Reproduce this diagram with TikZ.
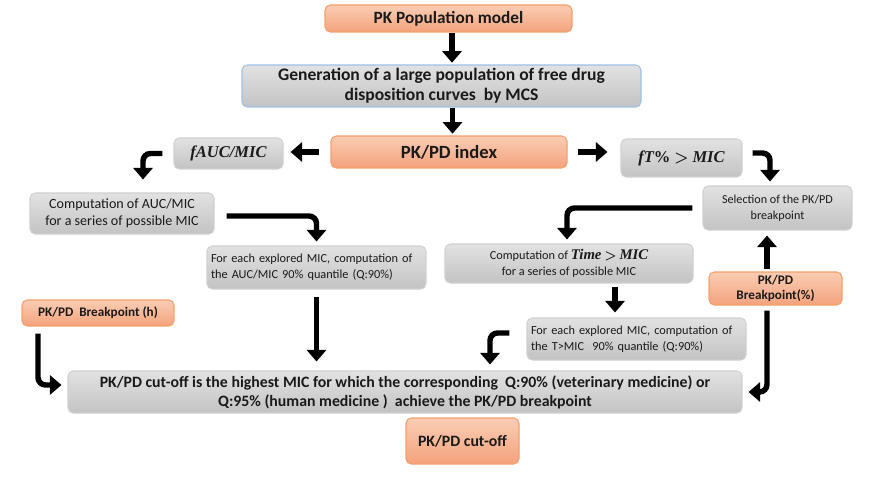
\documentclass[tikz,border=0pt]{standalone}
\usepackage{amsmath}
\usepackage{fontspec}
\setmainfont{Carlito}
\newfontfamily\mathlike{Liberation Serif}
\usetikzlibrary{arrows.meta,positioning}
\definecolor{peachtop}{HTML}{FACDB4}
\definecolor{peachbot}{HTML}{F4A27C}
\definecolor{peachline}{HTML}{F4A06C}
\definecolor{greytop}{HTML}{E2E2E2}
\definecolor{greybot}{HTML}{C3C3C3}
\definecolor{greyline}{HTML}{D0D0D0}
\definecolor{blueline}{HTML}{9DC3E6}
\definecolor{ink}{HTML}{1A1A1A}
\newcommand{\fsz}[2]{\fontsize{#1}{#2}\selectfont}
\newcommand{\bim}[1]{{\mathlike\bfseries\itshape #1}}
\tikzset{
  box/.style={draw,rounded corners=3pt,inner xsep=0.08cm,inner ysep=0pt,
    align=center,line width=0.6pt,text=ink},
  orbox/.style={box,draw=peachline,top color=peachtop,bottom color=peachbot},
  grbox/.style={box,draw=greyline,top color=greytop,bottom color=greybot},
  small/.style={font=\fsz{7}{9}},
  flow/.style={line width=3.1pt,-{Triangle[length=2.3mm,width=3.8mm]}},
  elbow/.style={flow,rounded corners=1.5mm},
}
\begin{document}
\begin{tikzpicture}
  \useasboundingbox (0,0) rectangle (17.64,-9.56);
  % top of the chain
  \node[orbox,minimum width=4.94cm,minimum height=0.54cm,font=\fsz{9.8}{11}\bfseries]
    (pop) at (8.97,-0.37) {PK Population model};
  \node[grbox,draw=blueline,minimum width=7.98cm,minimum height=0.84cm,font=\fsz{10}{11.4}\bfseries]
    (gen) at (8.83,-1.72) {Generation of a large population of free drug\\ disposition curves\ \ by MCS};
  \node[orbox,minimum width=4.72cm,minimum height=0.64cm,font=\fsz{10.6}{12}\bfseries]
    (idx) at (8.98,-3.04) {PK/PD index};
  % index choices
  \node[grbox,minimum width=2.18cm,minimum height=0.62cm,font=\fsz{9.4}{11}]
    (fauc) at (4.57,-3.07) {\bim{fAUC/MIC}};
  \node[grbox,minimum width=2.42cm,minimum height=0.76cm,font=\fsz{9.4}{11}]
    (ft) at (13.63,-3.16) {\bim{fT}{\mathlike\bfseries\%} $\boldsymbol{>}$ \bim{MIC}};
  % AUC branch
  \node[grbox,font=\fsz{8}{9.4},minimum width=3.68cm,minimum height=0.82cm]
    (compauc) at (2.44,-4.27) {Computation of AUC/MIC\\ for a series of possible MIC};
  \node[grbox,small,align=left,text width=4.22cm,minimum height=0.86cm]
    (qauc) at (6.33,-5.35) {For each explored MIC, computation of\\ the AUC/MIC 90\% quantile (Q:90\%)};
  % time branch
  \node[grbox,font=\fsz{6.9}{9},minimum width=2.98cm,minimum height=0.88cm]
    (sel) at (15.55,-4.16) {Selection of the PK/PD\\ breakpoint};
  \node[grbox,small,minimum width=4.96cm,minimum height=0.78cm]
    (comptime) at (11.38,-5.27) {Computation of {\fsz{8.4}{9}\bim{Time}} $\boldsymbol{>}$ {\fsz{8.4}{9}\bim{MIC}}\\ for a series of possible MIC};
  \node[grbox,small,align=left,text width=4.22cm,minimum height=0.84cm]
    (qt) at (12.73,-6.78) {For each explored MIC, computation of\\ the T>MIC\ \ 90\% quantile (Q:90\%)};
  % breakpoints
  \node[orbox,minimum width=2.66cm,minimum height=0.66cm,font=\fsz{7.5}{9}\bfseries]
    (bpp) at (15.51,-5.77) {PK/PD\\ Breakpoint(\%)};
  \node[orbox,minimum width=3.04cm,minimum height=0.52cm,font=\fsz{7.5}{9}\bfseries]
    (bph) at (1.96,-6.26) {PK/PD\ \ Breakpoint\ (h)};
  % result
  \node[grbox,minimum width=13.48cm,minimum height=0.84cm,font=\fsz{9}{10.8}\bfseries]
    (cut) at (8.10,-7.84) {PK/PD cut-off is the highest MIC for which the corresponding\ \ Q:90\% (veterinary medicine) or\\ Q:95\% (human medicine )\ \ achieve the PK/PD breakpoint};
  \node[orbox,minimum width=2.26cm,minimum height=0.92cm,font=\fsz{9}{10}\bfseries]
    (res) at (9.25,-8.82) {PK/PD cut-off};

  \draw[flow,shorten >=1pt] ([xshift=0.07cm]pop.south) -- ([xshift=0.07cm]pop.south |- gen.north);
  \draw[flow,shorten >=1pt] ([xshift=0.07cm]idx.north |- gen.south) -- ([xshift=0.07cm]idx.north);
  \draw[flow,shorten <=0.22cm,shorten >=0.14cm] (idx.west) -- (idx.west -| fauc.east);
  \draw[flow,shorten <=0.2cm,shorten >=0.26cm] (idx.east) -- (idx.east -| ft.west);
  \draw[elbow] ([xshift=-0.22cm]fauc.west) -| ([xshift=0.42cm,yshift=0.26cm]compauc.north);
  \draw[elbow] ([xshift=0.24cm,yshift=-0.05cm]compauc.east) -| ([yshift=0.08cm]qauc.north);
  \draw[flow,shorten <=0.14cm,shorten >=0.18cm] (qauc.south) -- (qauc.south |- cut.north);
  \draw[elbow] ([xshift=0.2cm,yshift=0.1cm]ft.east) -| ([xshift=-0.15cm,yshift=0.08cm]sel.north);
  \draw[elbow] ([xshift=-0.2cm]sel.west) -| ([xshift=-0.04cm,yshift=0.08cm]comptime.north);
  \draw[flow,shorten <=0.06cm,shorten >=0.1cm] ([xshift=-0.43cm]qt.north |- comptime.south) -- ([xshift=-0.43cm]qt.north);
  \draw[elbow] ([xshift=-0.34cm,yshift=0.12cm]qt.west) -| ([xshift=1.7cm,yshift=0.12cm]cut.north);
  \draw[flow,shorten <=0.04cm,shorten >=0.1cm] ([xshift=-0.17cm]bpp.north) -- ([xshift=-0.17cm]bpp.north |- sel.south);
  \draw[elbow] ([xshift=-0.17cm,yshift=-0.1cm]bpp.south) |- ([xshift=0.12cm]cut.east);
  \draw[elbow] ([xshift=-1.2cm,yshift=-0.14cm]bph.south) |- ([xshift=-0.12cm,yshift=0.14cm]cut.west);
\end{tikzpicture}
\end{document}
